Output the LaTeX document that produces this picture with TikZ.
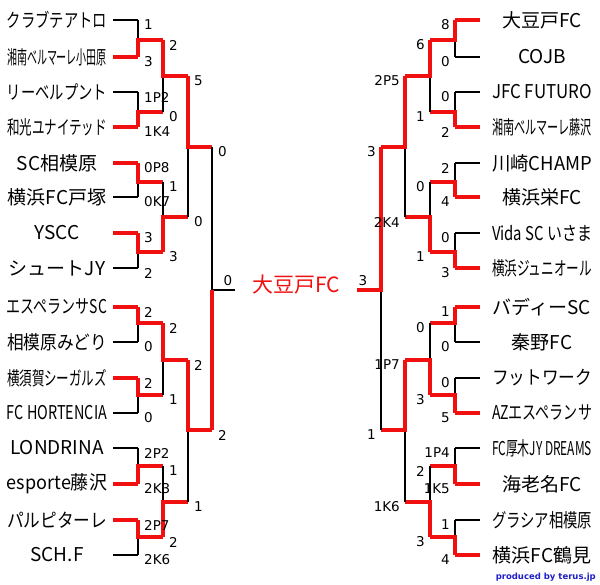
\documentclass[tikz,border=0pt]{standalone}
\usepackage{fontspec}
\usepackage{graphicx}
\setmainfont{DejaVu Sans}
\newfontfamily\jp{Noto Sans CJK JP}
\newcommand\fitw[1]{\sbox0{#1}\ifdim\wd0>100pt\resizebox{100pt}{\height}{#1}\else\usebox0\fi}
\definecolor{wred}{RGB}{240,16,16}
\tikzset{
  blk/.style={line width=1.3pt,black},
  rd/.style={line width=3.6pt,wred},
  team/.style={font=\jp\fontsize{19}{19}\selectfont,inner sep=0pt},
  sc/.style={font=\fontsize{13.5}{13.5}\selectfont,inner sep=0pt},
}
\begin{document}
\begin{tikzpicture}[x=1pt,y=-1pt]
\useasboundingbox (0,0) rectangle (600,584);
% left team lines
\foreach \y/\c in {20/blk,57/rd,92/blk,127/rd,163/rd,197/blk,233/rd,268/blk,307/rd,342/blk,378/rd,413/blk,448/blk,484/rd,520/rd,555/blk}
  \draw[\c] (113,\y) -- (138,\y);
\foreach \y/\c in {20/rd,57/blk,92/blk,127/rd,163/blk,197/rd,233/blk,268/rd,307/rd,342/blk,378/blk,413/rd,448/blk,484/rd,520/blk,555/rd}
  \draw[\c] (480,\y) -- (455,\y);
% matches
\foreach \xv/\ya/\yb/\ym/\xo/\w in {
 138/20/57/40/163/57, 138/92/127/112/163/127, 138/163/197/182/163/163, 138/233/268/252/163/233,
 138/307/342/323/163/307, 138/378/413/395/163/378, 138/448/484/466/163/484, 138/520/555/537/163/520,
 163/40/112/76/188/40, 163/182/252/217/188/252, 163/323/395/360/188/323, 163/466/537/502/188/537,
 188/76/217/147/212/76, 188/360/502/430/212/360,
 455/20/57/40/430/20, 455/92/127/112/430/127, 455/163/197/182/430/197, 455/233/268/252/430/268,
 455/307/342/323/430/307, 455/378/413/395/430/413, 455/448/484/466/430/484, 455/520/555/537/430/555,
 430/40/112/76/405/40, 430/182/252/217/405/252, 430/323/395/360/405/395, 430/466/537/502/405/537,
 405/76/217/147/381/76, 405/360/502/430/381/360}
{
  \draw[blk] (\xv,\ya) -- (\xv,\yb);
  \draw[rd,line join=miter] (\xv,\w) -- (\xv,\ym) -- (\xo,\ym);
}
% finals
\draw[blk] (212,147) -- (212,430);
\draw[blk] (212,290) -- (235,290);
\draw[rd] (212,430) -- (212,290);
\draw[blk] (381,147) -- (381,430);
\draw[rd,line join=miter] (381,147) -- (381,290) -- (357,290);
\node[font=\jp\fontsize{21}{21}\selectfont,text=wred,inner sep=0pt] (champ) at (296,285) {大豆戸FC};
\node[sc,anchor=south] at (228,286) {0};
\node[sc,anchor=south] at (363,286) {3};
% left teams
\foreach \y/\t [count=\i] in {20/クラブテアトロ,57/湘南ベルマーレ小田原,92/リーベルプント,127/和光ユナイテッド,163/SC相模原,197/横浜FC戸塚,233/YSCC,268/シュートJY,307/エスペランサSC,342/相模原みどり,378/横須賀シーガルズ,413/FC HORTENCIA,448/LONDRINA,484/esporte藤沢,520/パルピターレ,555/SCH.F}
  \node[team] (L\i) at (57,\y) {\fitw{\t}};
\foreach \y/\t [count=\i] in {20/大豆戸FC,57/COJB,92/JFC FUTURO,127/湘南ベルマーレ藤沢,163/川崎CHAMP,197/横浜栄FC,233/Vida SC いさま,268/横浜ジュニオール,307/バディーSC,342/秦野FC,378/フットワーク,413/AZエスペランサ,448/FC厚木JY DREAMS,484/海老名FC,520/グラシア相模原,555/横浜FC鶴見}
  \node[team] (R\i) at (542,\y) {\fitw{\t}};
% left scores
\foreach \x/\y/\s in {138/20/1,138/57/3,138/92/1P2,138/127/1K4,138/163/0P8,138/197/0K7,138/233/3,138/268/2,
 138/307/2,138/342/0,138/378/2,138/413/0,138/448/2P2,138/484/2K3,138/520/2P7,138/555/2K6,
 163/40/2,163/112/0,163/182/1,163/252/3,163/323/2,163/395/1,163/466/1,163/537/2,
 188/76/5,188/217/0,188/360/2,188/502/1,212/147/0,212/430/2}
  \node[sc,anchor=west] at (\x+6,\y+5) {\s};
\foreach \x/\y/\s in {455/20/8,455/57/0,455/92/0,455/127/2,455/163/2,455/197/4,455/233/0,455/268/3,
 455/307/1,455/342/0,455/378/0,455/413/5,455/448/1P4,455/484/1K5,455/520/1,455/555/4,
 430/40/6,430/112/1,430/182/0,430/252/1,430/323/0,430/395/3,430/466/2,430/537/3,
 405/76/2P5,405/217/2K4,405/360/1P7,405/502/1K6,381/147/3,381/430/1}
  \node[sc,anchor=east] at (\x-5,\y+5) {\s};
\node[font=\bfseries\fontsize{8.5}{8.5}\selectfont,text={rgb,255:red,30;green,30;blue,200},anchor=east,inner sep=0pt] (credit) at (596,577) {produced by terus.jp};
\end{tikzpicture}
\end{document}
